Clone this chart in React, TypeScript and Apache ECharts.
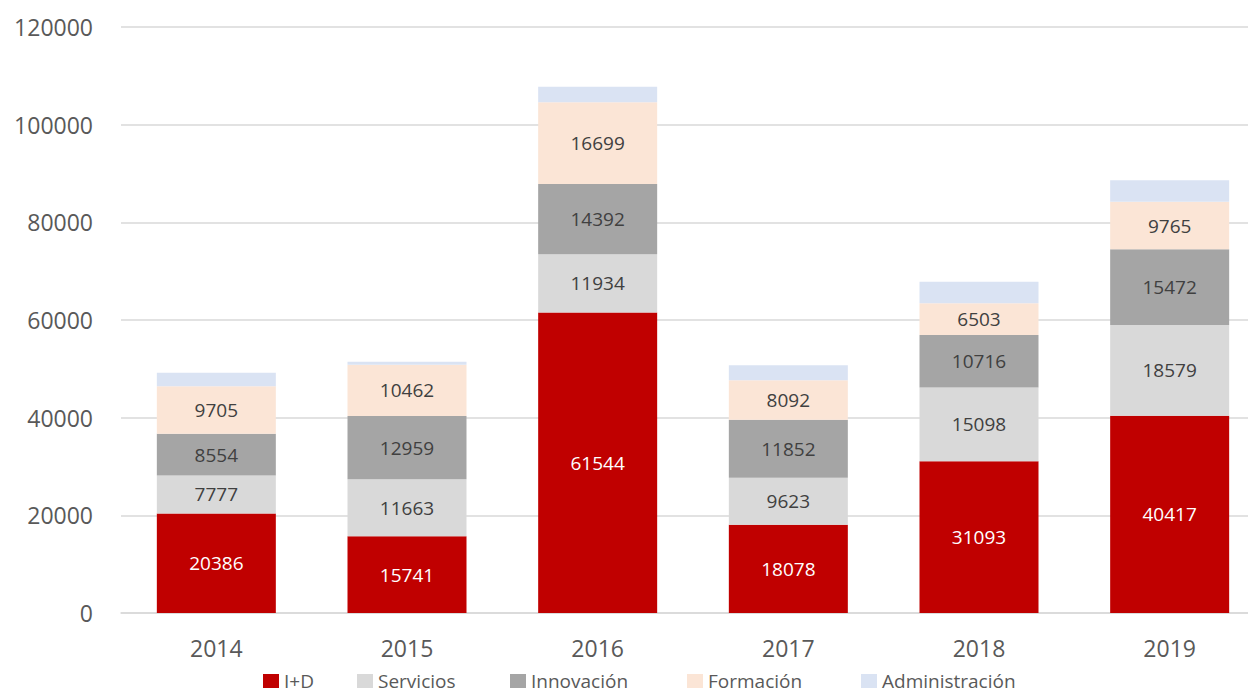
import React, { useEffect, useRef } from "react";
import * as echarts from "echarts";

const categories = ["2014", "2015", "2016", "2017", "2018", "2019"];
const seriesNames = ["I+D", "Servicios", "Innovación", "Formación", "Administración"];
const iD = [20386, 15741, 61544, 18078, 31093, 40417];
const servicios = [7777, 11663, 11934, 9623, 15098, 18579];
const innovacion = [8554, 12959, 14392, 11852, 10716, 15472];
const formacion = [9705, 10462, 16699, 8092, 6503, 9765];
const administracion = [2800, 600, 3200, 3100, 4400, 4400];
const yTicks = { min: 0, max: 120000, interval: 20000 };

const colors = ["#C00000", "#D9D9D9", "#A5A5A5", "#FBE5D6", "#DAE3F3"];
const labelColors = ["#FFFFFF", "#404040", "#404040", "#404040", "#404040"];
const showLabels = [true, true, true, true, false];
const legendLefts = [263, 357, 510, 687, 861];
const FONT = "Open Sans";

export default function App() {
  const ref = useRef<HTMLDivElement>(null);
  useEffect(() => {
    if (!ref.current) return;
    const chart = echarts.init(ref.current, null, { renderer: "svg" });
    const data = [iD, servicios, innovacion, formacion, administracion];
    chart.setOption({
      animation: false,
      color: colors,
      textStyle: { fontFamily: FONT },
      grid: { left: 121, right: 0, top: 27, bottom: 83, containLabel: false },
      legend: seriesNames.map((name, i) => ({
        data: [name],
        left: legendLefts[i],
        top: 671,
        padding: 0,
        itemWidth: 16,
        itemHeight: 14,
        itemGap: 0,
        icon: "rect",
        textStyle: { fontFamily: FONT, fontSize: 19, lineHeight: 20, color: "#595959" },
      })),
      xAxis: {
        type: "category",
        data: categories,
        axisLine: { lineStyle: { color: "#D9D9D9", width: 1.5 } },
        axisTick: { show: false },
        axisLabel: { fontFamily: FONT, fontSize: 23, color: "#595959", margin: 23 },
      },
      yAxis: {
        type: "value",
        min: yTicks.min,
        max: yTicks.max,
        interval: yTicks.interval,
        axisLine: { show: false },
        axisTick: { show: false },
        splitLine: { lineStyle: { color: "#D9D9D9", width: 1.5 } },
        axisLabel: {
          fontFamily: FONT,
          fontSize: 23,
          color: "#595959",
          margin: 28,
          formatter: (v: number) => String(v),
        },
      },
      series: seriesNames.map((name, i) => ({
        name,
        type: "bar",
        stack: "total",
        barWidth: 119,
        data: data[i],
        itemStyle: { color: colors[i] },
        label: {
          show: showLabels[i],
          position: "inside",
          fontFamily: FONT,
          fontSize: 19,
          color: labelColors[i],
        },
      })),
    });
    return () => chart.dispose();
  }, []);
  return (
    <div
      style={{
        position: "fixed",
        left: 0,
        top: 0,
        width: 1248,
        height: 696,
        overflow: "hidden",
        background: "#fff",
      }}
    >
      <div ref={ref} style={{ width: 1265, height: 696 }} />
    </div>
  );
}
